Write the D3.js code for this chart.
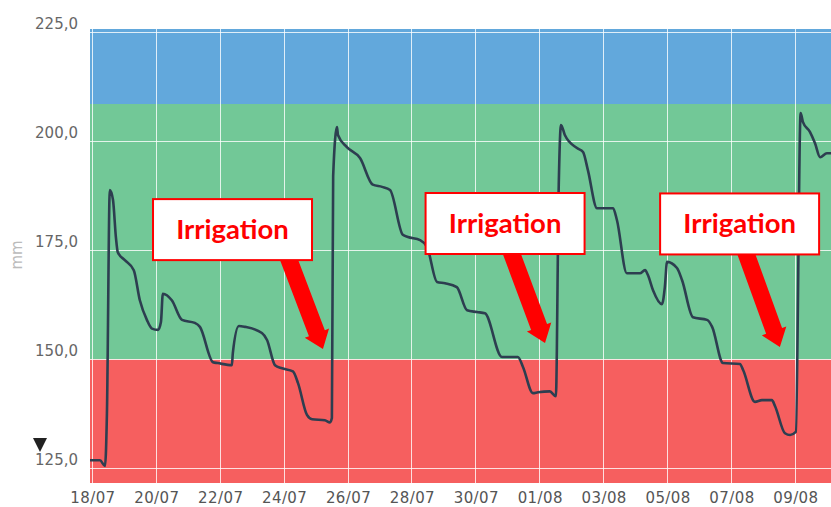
<!DOCTYPE html>
<html>
<head>
<meta charset="utf-8">
<script src="https://cdn.jsdelivr.net/npm/d3@7"></script>
<style>
  html, body { margin: 0; padding: 0; background: #ffffff; }
  svg { display: block; }
</style>
</head>
<body>
<svg id="chart" width="831" height="507"></svg>
<script>
// ---------- DATA ----------
// days elapsed since 18/07 00:00
const dayOffset = [-0.06,0.25,0.41,0.47,0.56,0.66,0.75,0.81,1.03,1.31,1.50,1.72,1.88,2.07,2.16,2.22,2.50,2.82,3.22,3.38,3.79,3.94,4.38,4.41,4.60,4.79,5.32,5.48,5.73,5.95,6.29,6.45,6.73,6.89,7.29,7.45,7.51,7.55,7.67,7.70,7.98,8.39,8.79,9.08,9.33,9.73,9.89,10.27,10.49,10.80,11.05,11.42,11.74,12.05,12.30,12.83,12.99,13.33,13.49,13.80,13.96,14.33,14.52,14.61,14.68,14.80,15.18,15.37,15.52,15.81,16.31,16.43,16.74,17.15,17.31,17.40,17.56,17.84,17.93,18.00,18.31,18.47,18.81,19.25,19.41,19.75,20.28,20.38,20.75,20.97,21.28,21.38,21.69,21.85,22.03,22.18,22.25,22.47,22.63,22.79,23.00,23.13];
// soil water (mm)
const moisture = [126.8,126.8,125.5,137.6,188.8,186.5,178,174.5,172.7,170.4,163.5,159,157,156.7,158.5,165,163.5,159,158.3,157.4,149.3,149.1,148.6,151.4,157.6,157.4,156,154.4,148.6,147.9,147.2,144.5,137.2,136.2,136,135.5,136.5,192,203.2,201.4,198.6,196.1,190,189.5,188.8,178.5,178,177.3,175.7,167.7,167.4,166.5,161.2,160.8,160.5,150.5,150.5,150.5,148.2,142.2,142.4,142.6,141.5,190,203.7,201.4,198.4,197.5,193.4,184.6,184.6,181.9,169.7,169.7,170.4,169.3,165.8,162.6,166.5,172.3,170.9,168.1,159.6,159,157.4,149.1,148.9,147.5,140.2,140.6,140.6,139.2,133,132.6,133.3,206.4,204.4,202.1,199.5,196.3,197.2,197.2];

const yTicks = [125, 150, 175, 200, 225];
const xTickLabels = ["18/07","20/07","22/07","24/07","26/07","28/07","30/07","01/08","03/08","05/08","07/08","09/08"];
const xTickDays = [0,2,4,6,8,10,12,14,16,18,20,22];

// zones (mm): [from, to]
const zoneNames = ["deficit","optimal","excess"];
const zoneFrom = [121.6, 150, 208.5];
const zoneTo   = [150, 208.5, 225.7];
const zoneColors = ["#f65f5f", "#72c897", "#62a8dc"];

// annotations: box centre (day, mm) and arrow start/tip (day, mm)
const annoText = ["Irrigation","Irrigation","Irrigation"];
const annoBoxDay = [4.40, 12.93, 20.27];
const annoBoxMm  = [179.7, 181.1, 181.0];
const annoFromDay = [5.97, 12.93, 20.28];
const annoFromMm  = [176.6, 178.3, 178.1];
const annoTipDay = [7.23, 14.18, 21.53];
const annoTipMm  = [152.3, 153.7, 152.8];

// ---------- SETUP ----------
const plot = { left: 90, right: 831, top: 29, bottom: 483 };
const t0 = Date.UTC(2023, 6, 18);
const toDate = d => new Date(t0 + d * 864e5);

const x = d3.scaleUtc()
  .domain([toDate(-0.06), toDate(23.13)])
  .range([plot.left, plot.right]);
const y = d3.scaleLinear()
  .domain([121.6, 225.7])
  .range([plot.bottom, plot.top]);

const svg = d3.select("#chart");

// zones
svg.append("g").selectAll("rect")
  .data(zoneNames.map((n, i) => ({ n, from: zoneFrom[i], to: zoneTo[i], c: zoneColors[i] })))
  .join("rect")
  .attr("x", plot.left)
  .attr("width", plot.right - plot.left)
  .attr("y", d => y(d.to))
  .attr("height", d => y(d.from) - y(d.to))
  .attr("fill", d => d.c);

// grid
const grid = svg.append("g").attr("stroke", "rgba(255,255,255,0.8)").attr("stroke-width", 1);
grid.selectAll("line.h").data(yTicks).join("line")
  .attr("class", "h")
  .attr("x1", plot.left).attr("x2", plot.right)
  .attr("y1", d => Math.round(y(d)) + 0.5).attr("y2", d => Math.round(y(d)) + 0.5);
grid.selectAll("line.v").data(xTickDays).join("line")
  .attr("class", "v")
  .attr("y1", plot.top).attr("y2", plot.bottom)
  .attr("x1", d => Math.round(x(toDate(d))) + 0.5).attr("x2", d => Math.round(x(toDate(d))) + 0.5);

// y axis labels
const fmt = v => d3.format(".1f")(v).replace(".", ",");
svg.append("g").selectAll("text").data(yTicks).join("text")
  .attr("x", 78)
  .attr("y", d => y(d) - 3)
  .attr("text-anchor", "end")
  .attr("font-family", "DejaVu Sans")
  .attr("font-size", 15)
  .attr("fill", "#666")
  .text(fmt);

// x axis labels
svg.append("g").selectAll("text").data(xTickDays).join("text")
  .attr("x", d => x(toDate(d)) + 1)
  .attr("y", 503)
  .attr("text-anchor", "middle")
  .attr("font-family", "DejaVu Sans")
  .attr("font-size", 15)
  .attr("letter-spacing", "0.4px")
  .attr("fill", "#555")
  .text((d, i) => xTickLabels[i]);

// y axis title
svg.append("text")
  .attr("transform", "translate(22,255) rotate(-90)")
  .attr("text-anchor", "middle")
  .attr("font-family", "DejaVu Sans")
  .attr("font-size", 15)
  .attr("fill", "#bbb")
  .text("mm");

// marker triangle
svg.append("path")
  .attr("d", "M33,438 L47,438 L40,452 Z")
  .attr("fill", "#222");

// line
const pts = dayOffset.map((d, i) => [toDate(d), moisture[i]]);
svg.append("path")
  .datum(pts)
  .attr("fill", "none")
  .attr("stroke", "#2d3e50")
  .attr("stroke-width", 2.6)
  .attr("stroke-linejoin", "round")
  .attr("d", d3.line().x(d => x(d[0])).y(d => y(d[1])).curve(d3.curveMonotoneX));

// annotations
const ann = svg.append("g");
annoText.forEach((txt, i) => {
  const sx = x(toDate(annoFromDay[i])), sy = y(annoFromMm[i]);
  const tx = x(toDate(annoTipDay[i])), ty = y(annoTipMm[i]);
  const dx = tx - sx, dy = ty - sy, len = Math.hypot(dx, dy);
  const ux = dx / len, uy = dy / len, px = -uy, py = ux;
  const sw = 8.5, hw = 13, hl = 17;
  const bx = tx - ux * hl, by = ty - uy * hl;
  const poly = [
    [sx + px * sw, sy + py * sw],
    [bx + px * sw, by + py * sw],
    [bx + px * hw, by + py * hw],
    [tx, ty],
    [bx - px * hw, by - py * hw],
    [bx - px * sw, by - py * sw],
    [sx - px * sw, sy - py * sw]
  ];
  ann.append("path").attr("d", "M" + poly.map(p => p.join(",")).join("L") + "Z").attr("fill", "#ff0000");

  const cx = x(toDate(annoBoxDay[i])), cy = y(annoBoxMm[i]);
  const bw = 159, bh = 61;
  ann.append("rect")
    .attr("x", cx - bw / 2).attr("y", cy - bh / 2)
    .attr("width", bw).attr("height", bh)
    .attr("fill", "#ffffff")
    .attr("stroke", "#ff0000").attr("stroke-width", 2);
  ann.append("text")
    .attr("x", cx).attr("y", cy + 9)
    .attr("text-anchor", "middle")
    .attr("font-family", "Lato")
    .attr("font-weight", 700)
    .attr("font-size", 27.5)
    .attr("fill", "#ff0000")
    .text(txt);
});
</script>
</body>
</html>
